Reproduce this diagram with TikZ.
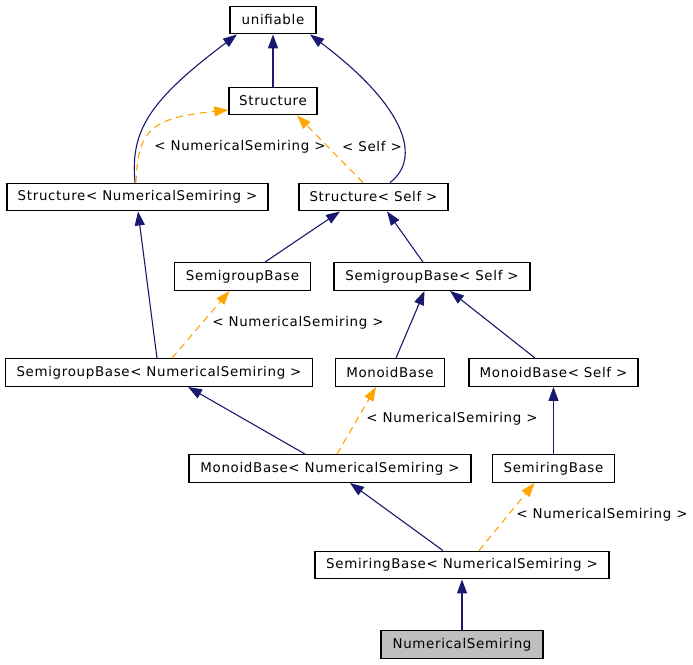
\documentclass[tikz,border=0pt]{standalone}
\usepackage{fontspec}
\setmainfont{DejaVu Sans}[LetterSpace=5]
\usetikzlibrary{arrows.meta}
\definecolor{edgeblue}{HTML}{191970}
\definecolor{edgeorange}{HTML}{FFA500}
\definecolor{selgray}{HTML}{BFBFBF}
\begin{document}
\begin{tikzpicture}[x=1pt,y=-1pt,
  cls/.style={draw=black, line width=1.4pt, fill=white, minimum height=27.5pt, inner sep=0pt, font=\fontsize{13.4}{15}\selectfont},
  inh/.style={draw=edgeblue, line width=1.1pt, -{Triangle[length=14pt,width=10pt]}},
  tpl/.style={draw=edgeorange, line width=1.1pt, dash pattern=on 7pt off 5pt, -{Triangle[length=14pt,width=10pt]}},
  lbl/.style={inner sep=0pt, font=\fontsize{13.4}{15}\selectfont}]
\useasboundingbox (0,0) rectangle (693,664);
% nodes
\node[cls, minimum width=86pt]  (unif)   at (273,20)    {unifiable};
\node[cls, minimum width=88pt]  (str)    at (273,101)   {Structure};
\node[cls, minimum width=261pt] (stns)   at (137.5,197) {Structure< NumericalSemiring >};
\node[cls, minimum width=149pt] (stself) at (373.5,197) {Structure< Self >};
\node[cls, minimum width=136pt] (sgb)    at (242.5,276.5) {SemigroupBase};
\node[cls, minimum width=196pt] (sgself) at (432,276.5) {SemigroupBase< Self >};
\node[cls, minimum width=307pt] (sgns)   at (159,372.5) {SemigroupBase< NumericalSemiring >};
\node[cls, minimum width=109pt] (mb)     at (390,372.5) {MonoidBase};
\node[cls, minimum width=169pt] (mbself) at (553.5,372.5) {MonoidBase< Self >};
\node[cls, minimum width=282pt] (mbns)   at (330,468.5) {MonoidBase< NumericalSemiring >};
\node[cls, minimum width=122pt] (srb)    at (553.5,468.5) {SemiringBase};
\node[cls, minimum width=294pt] (srns)   at (462,565)   {SemiringBase< NumericalSemiring >};
\node[cls, minimum width=162pt, fill=selgray] (ns) at (462,644.5) {NumericalSemiring};
% labels
\node[lbl] (l1) at (240,147) {< NumericalSemiring >};
\node[lbl] (l2) at (372,147) {< Self >};
\node[lbl] (l3) at (298,323) {< NumericalSemiring >};
\node[lbl] (l4) at (452,419) {< NumericalSemiring >};
\node[lbl] (l5) at (602,515) {< NumericalSemiring >};
% edges
\draw[inh] (str.north) -- (unif.south);
\draw[inh] ([xshift=-2.5pt]stns.north) .. controls (130,130) and (150,100) .. ([xshift=-36pt]unif.south);
\draw[inh] ([xshift=16.5pt]stself.north) .. controls (420,160) and (410,110) .. ([xshift=37pt]unif.south);
\draw[tpl] ([xshift=-1.5pt]stns.north) .. controls (138,130) and (150,118) .. ([yshift=-9pt]str.west);
\draw[tpl] ([xshift=-10.5pt]stself.north) -- ([xshift=24pt]str.south);
\draw[inh] ([xshift=22.5pt]sgb.north) -- ([xshift=-33.5pt]stself.south);
\draw[inh] ([xshift=-9pt]sgself.north) -- ([xshift=13.5pt]stself.south);
\draw[inh] ([xshift=-2pt]sgns.north) -- ([xshift=0.5pt]stns.south);
\draw[tpl] ([xshift=13pt]sgns.north) -- ([xshift=-13pt]sgb.south);
\draw[inh] ([xshift=6pt]mb.north) -- ([xshift=-7.5pt]sgself.south);
\draw[inh] ([xshift=-18.5pt]mbself.north) -- ([xshift=18pt]sgself.south);
\draw[inh] ([xshift=-25pt]mbns.north) -- ([xshift=29pt]sgns.south);
\draw[tpl] ([xshift=7pt]mbns.north) -- ([xshift=-14pt]mb.south);
\draw[inh] (srb.north) -- (mbself.south);
\draw[inh] ([xshift=-19pt]srns.north) -- ([xshift=20pt]mbns.south);
\draw[tpl] ([xshift=17pt]srns.north) -- ([xshift=-19pt]srb.south);
\draw[inh] (ns.north) -- (srns.south);
\end{tikzpicture}
\end{document}
